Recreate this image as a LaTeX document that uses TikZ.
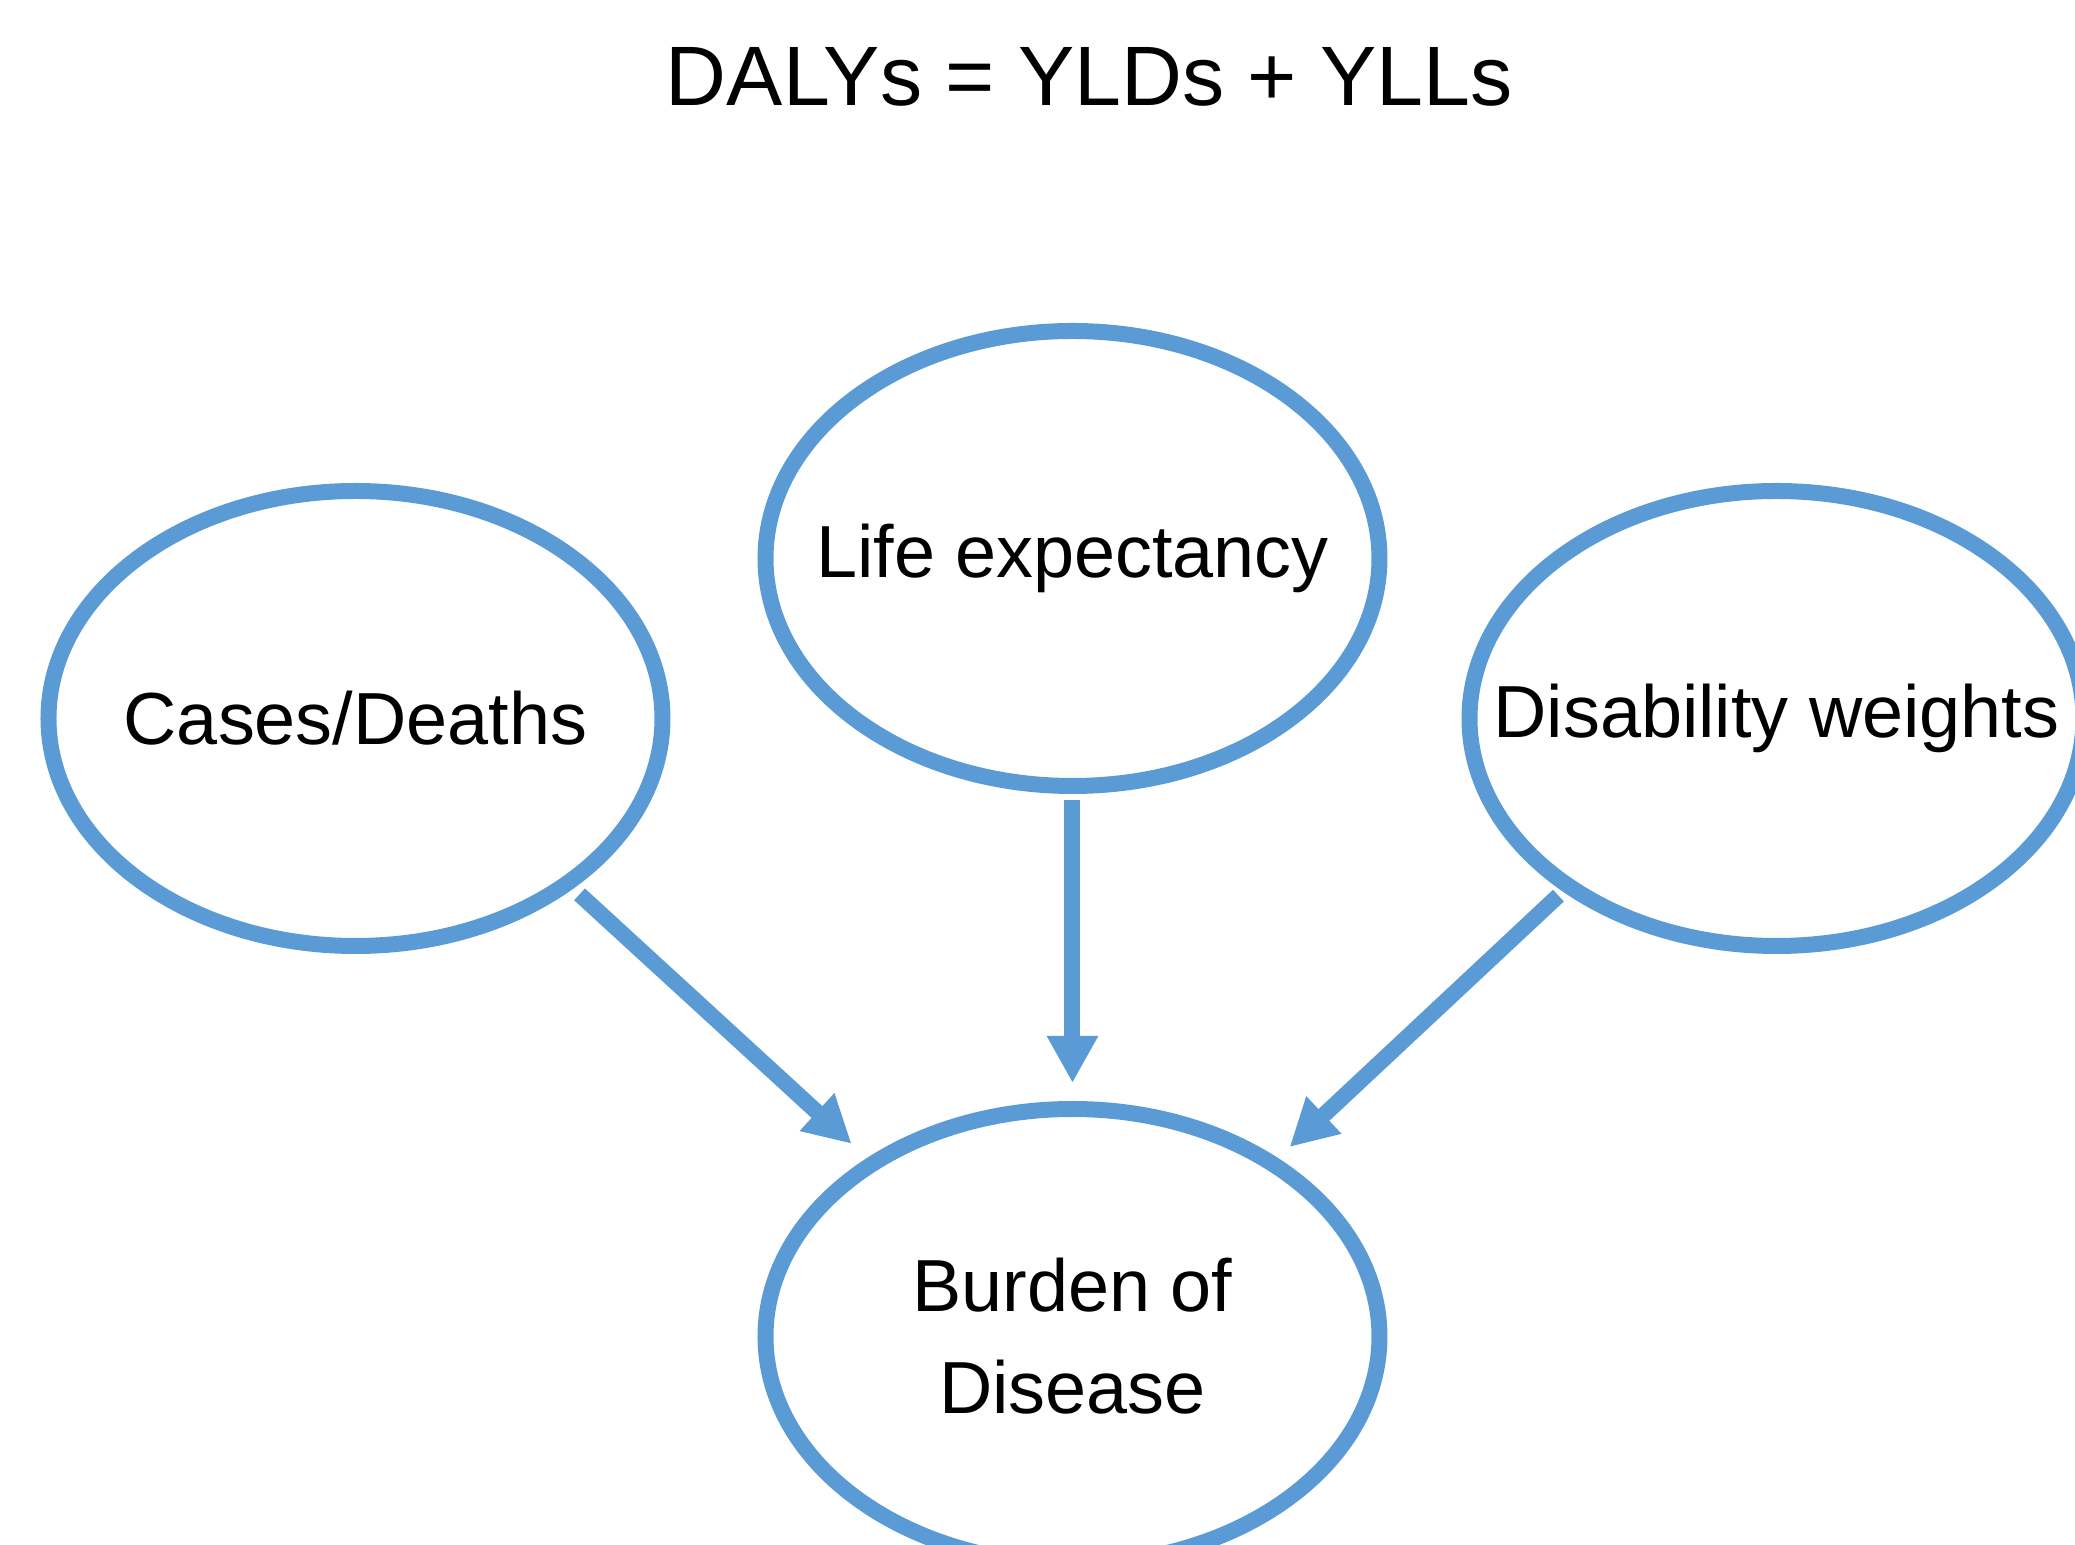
\documentclass[tikz,border=0pt]{standalone}
\usepackage{fontspec}
\setmainfont{Liberation Sans}
\usetikzlibrary{shapes,arrows.meta,positioning}

\definecolor{bubbleblue}{HTML}{5B9BD5}

\begin{document}
\begin{tikzpicture}[
    on grid,
    % negative inner xsep keeps every ellipse the same size, long text or not
    bubble/.style={ellipse, draw=bubbleblue, line width=0.16cm, minimum width=6.14cm, minimum height=4.55cm, inner xsep=-1.5cm, align=center, font=\fontsize{21}{29}\selectfont},
    arrow/.style={-{Triangle[length=0.47cm, width=0.48cm]}, draw=bubbleblue, line width=0.16cm}
]
\useasboundingbox (-10.725,-9.865) rectangle (10.025,5.585);

\node[bubble] (life) {Life expectancy};
\node[bubble, below left=1.6cm and 7.17cm of life] (cases) {Cases/Deaths};
\node[bubble, below right=1.6cm and 7.04cm of life] (weights) {Disability weights};
\node[bubble, below=7.78cm of life] (burden) {Burden of\\Disease};
\node[above=4.815cm of life, xshift=0.17cm, font=\fontsize{24}{29}\selectfont] (title) {DALYs = YLDs + YLLs};

\draw[arrow, shorten <=0.085cm, shorten >=0.21cm] (cases.-38) -- (burden.139.5);
\draw[arrow, shorten <=0.06cm, shorten >=0.18cm] (life) -- (burden);
\draw[arrow, shorten <=0.06cm, shorten >=0.16cm] (weights.-141.6) -- (burden.41.7);

\end{tikzpicture}
\end{document}
